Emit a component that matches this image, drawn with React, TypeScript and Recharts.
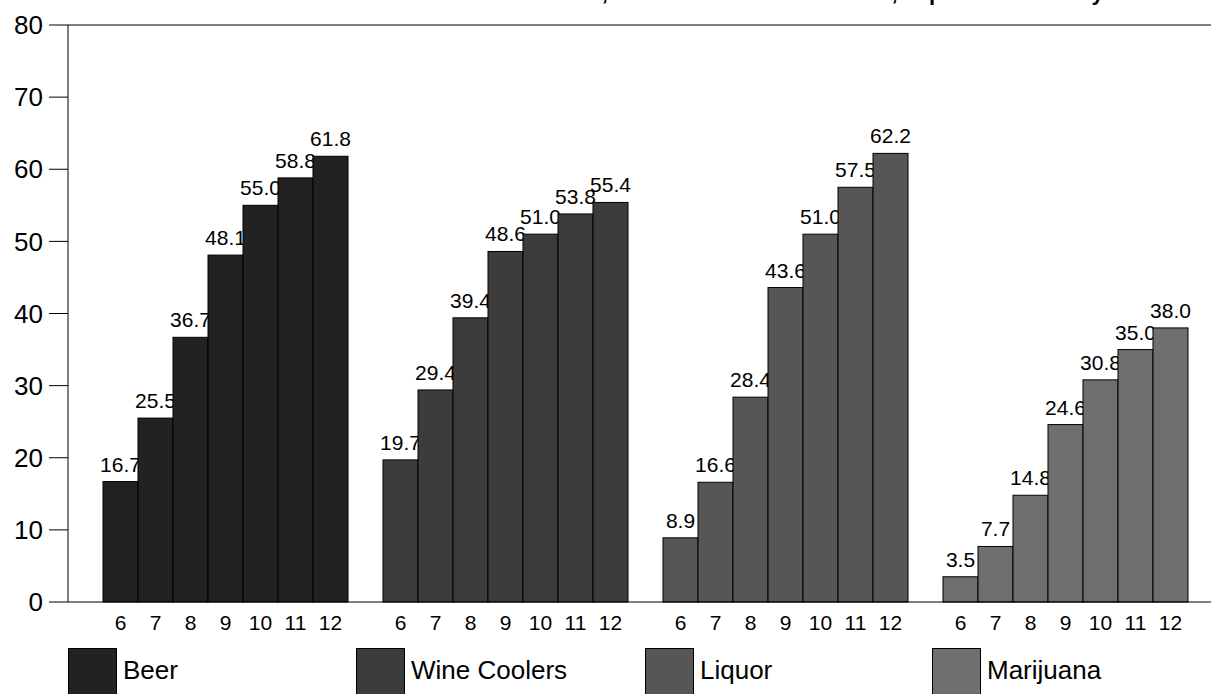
import React from 'react';
import { BarChart, Bar, XAxis, YAxis, ReferenceLine } from 'recharts';

const substances = ['Beer', 'Wine Coolers', 'Liquor', 'Marijuana'];
const grades = ['6', '7', '8', '9', '10', '11', '12'];
const beer = [16.7, 25.5, 36.7, 48.1, 55.0, 58.8, 61.8];
const wineCoolers = [19.7, 29.4, 39.4, 48.6, 51.0, 53.8, 55.4];
const liquor = [8.9, 16.6, 28.4, 43.6, 51.0, 57.5, 62.2];
const marijuana = [3.5, 7.7, 14.8, 24.6, 30.8, 35.0, 38.0];
const colors = ['#222222', '#3c3c3c', '#565656', '#6f6f6f'];
const yTicks = [0, 10, 20, 30, 40, 50, 60, 70, 80];

const FONT = '"Liberation Sans", Arial, sans-serif';

// one gap slot before each group, then one row per grade
const seriesValues = [beer, wineCoolers, liquor, marijuana];
const rows: Array<{ id: string; grade: string; value: number | null; color: string }> = [];
substances.forEach((name, i) => {
  rows.push({ id: `gap-${i}`, grade: '', value: null, color: 'none' });
  grades.forEach((g, j) => {
    rows.push({ id: `${name}-${g}`, grade: g, value: seriesValues[i][j], color: colors[i] });
  });
});
const gradeById: Record<string, string> = {};
rows.forEach(r => { gradeById[r.id] = r.grade; });

// rect + value label in one group so the next bar covers the label, like the original
const BarWithLabel = (props: any) => {
  const { x, y, width, height, payload } = props;
  if (payload == null || payload.value == null) return null;
  return (
    <g>
      <rect x={x} y={y} width={width} height={height} fill={payload.color} stroke="#000" strokeWidth={1} />
      <text x={x + width / 2} y={y - 10} textAnchor="middle" fontSize={21} fontFamily={FONT} fill="#000">
        {payload.value.toFixed(1)}
      </text>
    </g>
  );
};

export default function App() {
  return (
    <div style={{ position: 'absolute', left: 0, top: 0, width: 1211, height: 694, overflow: 'hidden', background: '#fff', fontFamily: FONT }}>
      <div style={{ position: 'absolute', left: 471, top: -18, fontWeight: 'bold', fontSize: 22, lineHeight: '22px', whiteSpace: 'nowrap' }}>
        Lifetime Use, Students in Grades 6 to 12, Top Substances by Grade
      </div>
      <BarChart
        width={1211}
        height={694}
        data={rows}
        margin={{ top: 25, right: 0, left: 0, bottom: 52 }}
        barCategoryGap={0}
        barGap={0}
      >
        <XAxis
          dataKey="id"
          interval={0}
          tickFormatter={(v: string) => gradeById[v] ?? ''}
          tickLine={false}
          tickSize={6}
          tickMargin={7}
          axisLine={{ stroke: '#000' }}
          tick={{ fill: '#000', fontSize: 21, fontFamily: FONT }}
          padding={{ left: 0, right: 23 }}
          height={40}
        />
        <YAxis
          domain={[0, 80]}
          ticks={yTicks}
          width={68}
          tickSize={19}
          tickMargin={6}
          axisLine={{ stroke: '#000' }}
          tickLine={{ stroke: '#000' }}
          tick={{ fill: '#000', fontSize: 26, fontFamily: FONT }}
        />
        <ReferenceLine y={80} stroke="#000" />
        <Bar dataKey="value" shape={BarWithLabel} isAnimationActive={false} />
      </BarChart>
      {substances.map((name, i) => {
        const left = [68, 356, 645, 932][i];
        return (
          <div key={name} style={{ position: 'absolute', left, top: 648, display: 'flex', alignItems: 'flex-start' }}>
            <div style={{ width: 49, height: 60, background: colors[i], border: '1px solid #000', boxSizing: 'border-box' }} />
            <span style={{ marginLeft: 6, marginTop: 7, fontSize: 26, lineHeight: '30px', color: '#000' }}>{name}</span>
          </div>
        );
      })}
    </div>
  );
}
